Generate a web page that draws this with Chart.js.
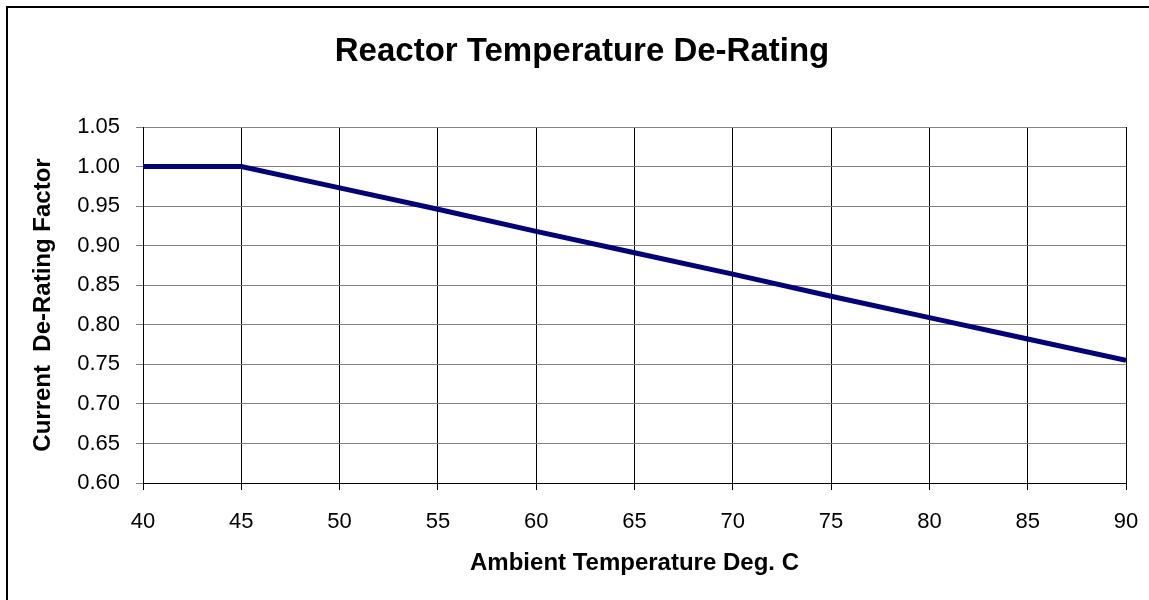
<!DOCTYPE html>
<html>
<head>
<meta charset="utf-8">
<script src="https://cdn.jsdelivr.net/npm/chart.js@4/dist/chart.umd.min.js"></script>
<style>
  body { margin: 0; background: #fff; }
  canvas { display: block; }
</style>
</head>
<body>
<canvas id="chart" width="1149" height="600"></canvas>
<script>
const temps = [40, 45, 50, 55, 60, 65, 70, 75, 80, 85, 90];
const factors = [1.00, 1.00, 0.973, 0.946, 0.918, 0.891, 0.864, 0.836, 0.809, 0.782, 0.755];
const chartTitle = 'Reactor Temperature De-Rating';
const xTitle = 'Ambient Temperature Deg. C';
const yTitle = 'Current  De-Rating Factor';

const FONT = "'Liberation Sans', Arial, sans-serif";

// outer frame + main title
const decor = {
    id: 'decor',
    afterDraw(chart) {
        const c = chart.ctx;
        c.save();
        c.strokeStyle = '#000';
        c.lineWidth = 2;
        c.strokeRect(7, 7, 1160, 610);
        c.fillStyle = '#000';
        c.font = 'bold 33px ' + FONT;
        c.textAlign = 'center';
        c.textBaseline = 'middle';
        c.fillText(chartTitle, 582, 52);
        c.restore();
    }
};

const ctx = document.getElementById('chart').getContext('2d');

new Chart(ctx, {
    type: 'line',
    data: {
        datasets: [{
            data: temps.map((t, i) => ({ x: t, y: factors[i] })),
            borderColor: '#000080',
            borderWidth: 5,
            pointRadius: 0,
            tension: 0,
            fill: false
        }]
    },
    options: {
        responsive: false,
        animation: false,
        layout: { padding: { left: 0, right: 23, top: 127, bottom: 0 } },
        plugins: { legend: { display: false }, tooltip: { enabled: false } },
        scales: {
            x: {
                type: 'linear',
                min: 40, max: 90,
                afterFit: s => { s.height = 117; s.paddingLeft = 0; s.paddingRight = 0; },
                ticks: { stepSize: 5, color: '#000', padding: 19, font: { family: FONT, size: 22 } },
                grid: { color: '#000', lineWidth: 1, tickLength: 7 },
                border: { color: '#000', width: 1 },
                title: { display: true, text: xTitle, color: '#000', padding: { top: 0, bottom: 22 },
                         font: { family: FONT, size: 24, weight: 'bold' } }
            },
            y: {
                min: 0.60, max: 1.05,
                afterFit: s => { s.width = 143; s.paddingTop = 0; s.paddingBottom = 0; },
                ticks: { stepSize: 0.05, color: '#000', padding: 16, font: { family: FONT, size: 22 },
                         callback: v => v.toFixed(2) },
                grid: { color: '#808080', lineWidth: 1, tickLength: 7 },
                border: { color: '#000', width: 1 },
                title: { display: true, text: yTitle, color: '#000', padding: { top: 29, bottom: 0 },
                         font: { family: FONT, size: 24, weight: 'bold' } }
            }
        }
    },
    plugins: [decor]
});
</script>
</body>
</html>
